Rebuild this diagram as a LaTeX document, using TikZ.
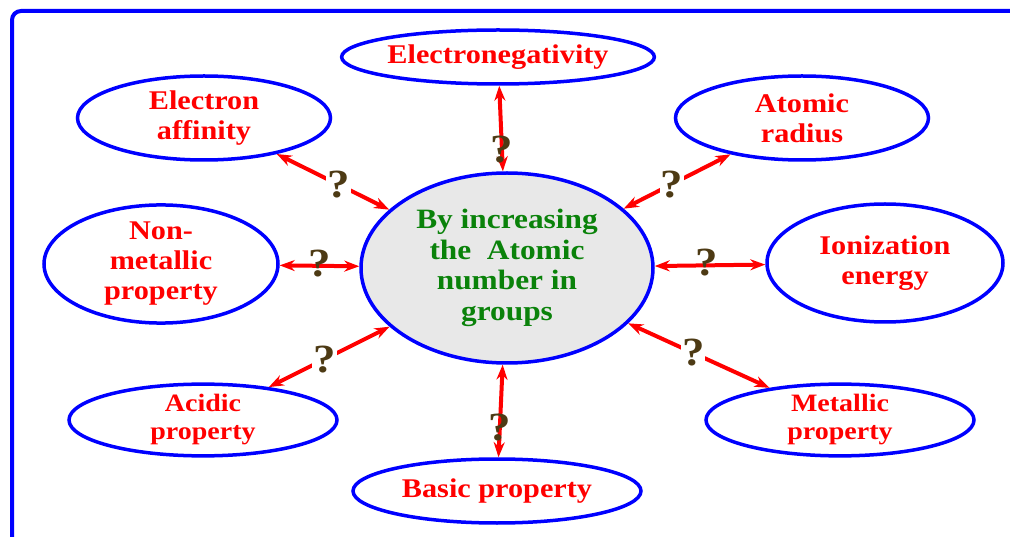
\documentclass[tikz,border=0pt]{standalone}
\usepackage{fontspec}
\setmainfont{Liberation Serif}[FakeStretch=1.12]
\usetikzlibrary{arrows.meta,shapes.geometric}
\definecolor{qbrown}{RGB}{77,58,20}
\definecolor{bubblegray}{RGB}{232,232,232}
\definecolor{leafgreen}{RGB}{10,130,10}

\begin{document}
\begin{tikzpicture}[
  x=1pt, y=-1pt,
  bubble/.style={ellipse, draw=blue, line width=3.5pt, inner sep=0pt, align=center,
    text=red, font=\fontsize{27}{30}\selectfont\bfseries},
  smallbubble/.style={bubble, font=\fontsize{25}{28}\selectfont\bfseries},
  link/.style={{Stealth[length=15pt,width=11pt]}-{Stealth[length=15pt,width=11pt]}, red, line width=4pt},
  qm/.style={text=qbrown, font=\fontsize{40}{40}\selectfont\bfseries, inner sep=1pt}
]
\useasboundingbox (0,0) rectangle (1010,537);
% frame
\draw[blue, line width=4pt, rounded corners=9pt] (12,537) -- (12,11) -- (1010,11);

% central idea
\node[bubble, fill=bubblegray, text=leafgreen, minimum width=292pt, minimum height=190pt,
  font=\fontsize{28}{30.5}\selectfont\bfseries]
  (center) at (507,268) {By increasing\\the~\ Atomic\\number in\\groups};

% properties
\node[bubble, minimum width=312pt, minimum height=54pt] (eneg) at (498,57) {Electronegativity};
\node[bubble, minimum width=253pt, minimum height=84pt] (eaff) at (204,118) {Electron\\affinity};
\node[bubble, minimum width=253pt, minimum height=84pt] (arad) at (802,118) {Atomic\\radius};
\node[bubble, minimum width=234pt, minimum height=118pt] (nonmet) at (161,264) {Non-\\metallic\\property};
\node[bubble, minimum width=236pt, minimum height=118pt] (ion) at (885,263) {Ionization\\energy};
\node[smallbubble, minimum width=268pt, minimum height=68pt] (acid) at (203,420) {Acidic\\property};
\node[smallbubble, minimum width=268pt, minimum height=68pt] (metal) at (840,420) {Metallic\\property};
\node[bubble, minimum width=288pt, minimum height=64pt] (basic) at (497,491) {Basic property};

% links
\draw[link] (center) -- node[qm, fill=white, pos=0.45] {?} (eaff);
\draw[link] (center) -- node[qm, pos=0.25] {?} (eneg);
\draw[link] (center) -- node[qm, fill=white, pos=0.45] {?} (arad);
\draw[link] (center) -- node[qm, above=-14pt] {?} (nonmet);
\draw[link] (center) -- node[qm, above=-14pt, pos=0.47] {?} (ion);
\draw[link] (center) -- node[qm, fill=white, pos=0.54] {?} (acid);
\draw[link] (center) -- node[qm, fill=white, pos=0.46] {?} (metal);
\draw[link] (center) -- node[qm, pos=0.68] {?} (basic);
\end{tikzpicture}
\end{document}
